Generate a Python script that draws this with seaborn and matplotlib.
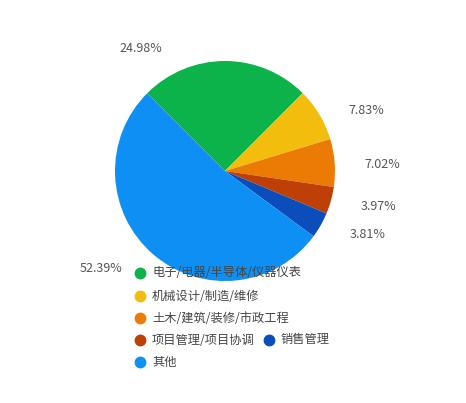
import matplotlib
matplotlib.use("Agg")
import matplotlib.pyplot as plt
import seaborn as sns

# data
categories = ["电子/电器/半导体/仪器仪表", "机械设计/制造/维修", "土木/建筑/装修/市政工程",
              "项目管理/项目协调", "销售管理", "其他"]
shares = [24.98, 7.83, 7.02, 3.97, 3.81, 52.39]
colors = ["#0cb34b", "#f3bd0d", "#ec7b06", "#bf4007", "#0a4dbb", "#0e8ff3"]

# label placement in pixel coords (x, y from top)
label_px = [(141, 48), (366, 110), (382, 165), (378, 206), (368, 235), (101, 269)]
legend_px = [(140, 273), (140, 296), (140, 318), (140, 340), (269, 340), (140, 362)]

W, H = 466, 403
cx, cy, r = 225, 171, 110

sns.set_theme(style="white")
plt.rcParams["font.family"] = ["Noto Sans CJK SC", "DejaVu Sans"]

fig = plt.figure(figsize=(W / 100, H / 100), dpi=100)
ax = fig.add_axes([(cx - r) / W, 1 - (cy + r) / H, 2 * r / W, 2 * r / H])
palette = sns.color_palette(colors)
ax.pie(shares, colors=palette, startangle=135, counterclock=False,
       wedgeprops={"linewidth": 0})
ax.set_xlim(-1, 1)
ax.set_ylim(-1, 1)
ax.axis("off")

for val, (x, y) in zip(shares, label_px):
    fig.text(x / W, 1 - y / H, f"{val:.2f}%", ha="center", va="center",
             fontsize=9, color="#555555")

for name, col, (x, y) in zip(categories, palette, legend_px):
    fig.lines.append(plt.Line2D([x / W], [1 - y / H], marker="o", markersize=7.5,
                                color=col, linestyle="none", transform=fig.transFigure))
    fig.text((x + 12) / W, 1 - y / H, name, ha="left", va="center",
             fontsize=8.8, color="#444444")

fig.savefig("out.png", dpi=100)
